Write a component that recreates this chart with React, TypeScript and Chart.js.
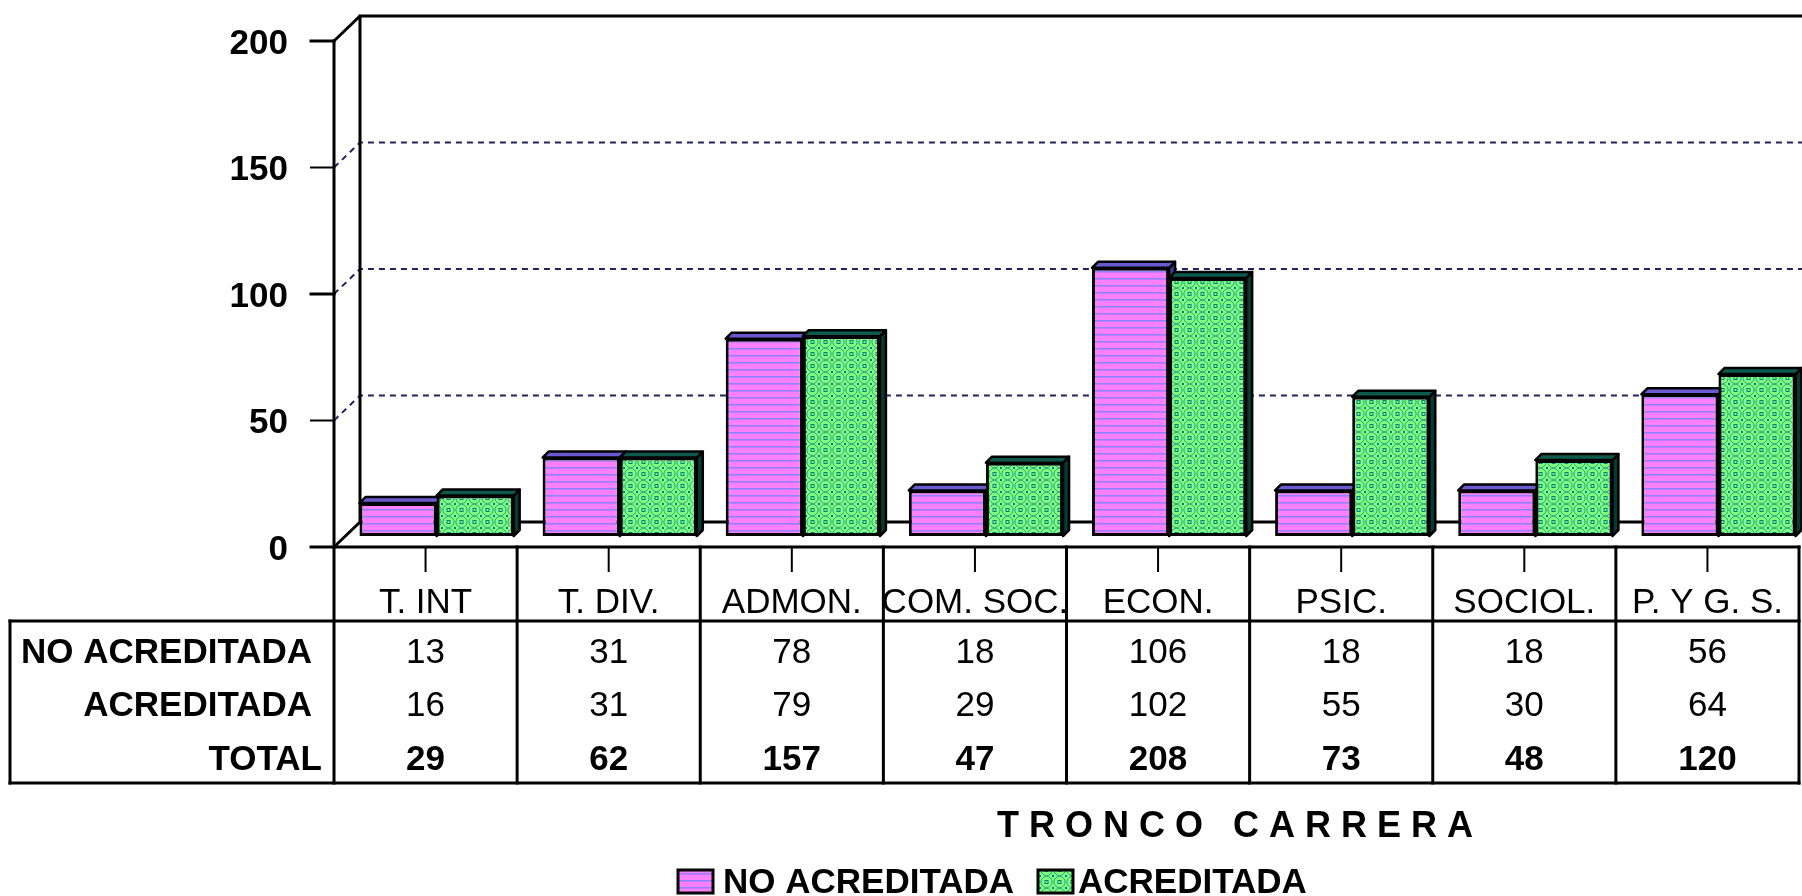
import React, { useEffect, useRef } from 'react';
import { Chart, registerables } from 'chart.js';

Chart.register(...registerables);

// ---------------- data ----------------
const categories = ['T. INT', 'T. DIV.', 'ADMON.', 'COM. SOC.', 'ECON.', 'PSIC.', 'SOCIOL.', 'P. Y G. S.'];
const noAcreditada = [13, 31, 78, 18, 106, 18, 18, 56];
const acreditada = [16, 31, 79, 29, 102, 55, 30, 64];
const totals = [29, 62, 157, 47, 208, 73, 48, 120];
const yTicks = [0, 50, 100, 150, 200];
const seriesNames = ['NO ACREDITADA', 'ACREDITADA'];
const rowLabels = ['NO ACREDITADA', 'ACREDITADA', 'TOTAL'];
const axisTitle = 'T R O N C O   C A R R E R A';

// ---------------- style / geometry ----------------
const FONT = '"Liberation Sans", Arial, sans-serif';
const FRONT = { dx: -11, dy: 11 };
const BACK = { dx: 15, dy: -14 };
const BAR_DEPTH = 6;
const GRID_COLOR = '#23235e';
const TABLE_LEFT = 10;
const HEADER_BASELINE = 613;
const HEADER_BOTTOM = 621;
const ROW_BASELINES = [663, 716, 770];
const ROW_LABEL_RIGHT = [312, 312, 322];
const TABLE_BOTTOM = 783;
const FACE = [
  { top: '#6a5ad0', side: '#3a3a90' },
  { top: '#0d5a4c', side: '#063a32' },
];

function makePinkPattern(): CanvasPattern {
  const c = document.createElement('canvas');
  c.width = 8;
  c.height = 7;
  const g = c.getContext('2d')!;
  g.fillStyle = '#ff80ff';
  g.fillRect(0, 0, 8, 7);
  g.fillStyle = '#8a84ff';
  g.fillRect(0, 5, 8, 1);
  g.fillStyle = '#c47cff';
  g.fillRect(0, 6, 8, 1);
  return g.createPattern(c, 'repeat')!;
}

function makeGreenPattern(): CanvasPattern {
  const c = document.createElement('canvas');
  c.width = 13;
  c.height = 12;
  const g = c.getContext('2d')!;
  g.fillStyle = '#80ff80';
  g.fillRect(0, 0, 13, 12);
  g.strokeStyle = '#2aa07c';
  g.lineWidth = 1;
  g.beginPath();
  g.arc(6.5, 6, 5.6, 0, Math.PI * 2);
  g.stroke();
  g.strokeStyle = '#00807f';
  g.strokeRect(5, 4.5, 3, 3);
  g.fillStyle = '#00807f';
  g.fillRect(0, 0, 1, 1);
  g.fillRect(12, 0, 1, 1);
  g.fillRect(0, 11, 1, 1);
  g.fillRect(12, 11, 1, 1);
  return g.createPattern(c, 'repeat')!;
}

export default function App() {
  const ref = useRef<HTMLCanvasElement>(null);

  useEffect(() => {
    const canvas = ref.current!;
    const pinkPat = makePinkPattern();
    const greenPat = makeGreenPattern();
    const patterns = [pinkPat, greenPat];
    const yMax = yTicks[yTicks.length - 1];

    const line = (ctx: CanvasRenderingContext2D, x1: number, y1: number, x2: number, y2: number) => {
      ctx.beginPath();
      ctx.moveTo(x1, y1);
      ctx.lineTo(x2, y2);
      ctx.stroke();
    };

    const threeD = {
      id: 'threeD',
      beforeDatasetsDraw(chart: any) {
        const { ctx, chartArea: a } = chart;
        const ys = chart.scales.y;
        const W = chart.width;
        const bx = a.left + BACK.dx;
        const fx = a.left + FRONT.dx;
        const yb = (v: number) => ys.getPixelForValue(v) + BACK.dy;
        const yf = (v: number) => ys.getPixelForValue(v) + FRONT.dy;
        ctx.save();
        // dashed gridlines on back wall + side wall
        ctx.strokeStyle = GRID_COLOR;
        ctx.lineWidth = 2;
        ctx.setLineDash([6, 5]);
        for (const v of yTicks) {
          if (v === 0 || v === yMax) continue;
          ctx.beginPath();
          ctx.moveTo(fx, yf(v));
          ctx.lineTo(bx, yb(v));
          ctx.lineTo(W, yb(v));
          ctx.stroke();
        }
        ctx.setLineDash([]);
        // walls
        ctx.strokeStyle = '#000';
        ctx.lineWidth = 3;
        ctx.lineCap = 'square';
        ctx.beginPath();
        ctx.moveTo(fx, yf(yMax));
        ctx.lineTo(bx, yb(yMax));
        ctx.lineTo(W, yb(yMax));
        ctx.moveTo(bx, yb(yMax));
        ctx.lineTo(bx, yb(0));
        ctx.lineTo(W, yb(0));
        ctx.moveTo(fx, yf(0));
        ctx.lineTo(bx, yb(0));
        ctx.stroke();
        // 3D faces of bars (fronts are drawn by Chart.js afterwards)
        const metas = [chart.getDatasetMeta(0), chart.getDatasetMeta(1)];
        ctx.lineWidth = 2.5;
        ctx.lineJoin = 'round';
        const d = BAR_DEPTH;
        for (let i = 0; i < categories.length; i++) {
          for (let s = 0; s < 2; s++) {
            const el = metas[s].data[i];
            const { x, y, base, width } = el.getProps(['x', 'y', 'base', 'width'], true);
            const l = x - width / 2;
            const r = x + width / 2;
            // side
            ctx.fillStyle = FACE[s].side;
            ctx.beginPath();
            ctx.moveTo(r, y);
            ctx.lineTo(r + d, y - d);
            ctx.lineTo(r + d, base - d);
            ctx.lineTo(r, base);
            ctx.closePath();
            ctx.fill();
            ctx.stroke();
            // top
            ctx.fillStyle = FACE[s].top;
            ctx.beginPath();
            ctx.moveTo(l, y);
            ctx.lineTo(l + d, y - d);
            ctx.lineTo(r + d, y - d);
            ctx.lineTo(r, y);
            ctx.closePath();
            ctx.fill();
            ctx.stroke();
          }
        }
        ctx.restore();
      },
      afterDraw(chart: any) {
        const { ctx, chartArea: a } = chart;
        const xs = chart.scales.x;
        const ys = chart.scales.y;
        const n = categories.length;
        const catW = xs.width / n;
        const fx = a.left + FRONT.dx;
        const fRight = fx + n * catW;
        const yf = (v: number) => ys.getPixelForValue(v) + FRONT.dy;
        const colX = (i: number) => xs.getPixelForValue(i) + FRONT.dx;
        ctx.save();
        ctx.strokeStyle = '#000';
        ctx.fillStyle = '#000';
        ctx.lineCap = 'square';
        ctx.lineWidth = 3;
        // front axis & floor
        line(ctx, fx, yf(yMax), fx, TABLE_BOTTOM);
        line(ctx, fx, yf(0), fRight, yf(0));
        // y ticks + labels
        ctx.font = `bold 35px ${FONT}`;
        ctx.textAlign = 'right';
        ctx.textBaseline = 'alphabetic';
        for (const v of yTicks) {
          ctx.lineWidth = v % 100 === 0 ? 3 : 2;
          line(ctx, fx - 23, yf(v), fx, yf(v));
          ctx.fillText(String(v), fx - 46, yf(v) + 12.5);
        }
        // category ticks
        ctx.lineWidth = 2;
        ctx.lineCap = 'butt';
        for (let i = 0; i < n; i++) line(ctx, colX(i), yf(0), colX(i), yf(0) + 25);
        ctx.lineCap = 'square';
        // table grid
        ctx.lineWidth = 3;
        for (let i = 1; i <= n; i++) line(ctx, fx + i * catW, yf(0), fx + i * catW, TABLE_BOTTOM);
        line(ctx, TABLE_LEFT, HEADER_BOTTOM, fRight, HEADER_BOTTOM);
        line(ctx, TABLE_LEFT, TABLE_BOTTOM, fRight, TABLE_BOTTOM);
        line(ctx, TABLE_LEFT, HEADER_BOTTOM, TABLE_LEFT, TABLE_BOTTOM);
        // header labels
        ctx.textAlign = 'center';
        ctx.font = `35px ${FONT}`;
        categories.forEach((c, i) => ctx.fillText(c, colX(i), HEADER_BASELINE));
        // rows
        const rows = [noAcreditada, acreditada, totals];
        rows.forEach((vals, r) => {
          ctx.font = `bold 35px ${FONT}`;
          ctx.textAlign = 'right';
          ctx.fillText(rowLabels[r], ROW_LABEL_RIGHT[r], ROW_BASELINES[r]);
          ctx.textAlign = 'center';
          ctx.font = `${r === 2 ? 'bold ' : ''}35px ${FONT}`;
          vals.forEach((v, i) => ctx.fillText(String(v), colX(i), ROW_BASELINES[r]));
        });
        // axis title
        ctx.font = `bold 36px ${FONT}`;
        ctx.textAlign = 'left';
        ctx.fillText(axisTitle, 997, 837);
        // legend
        const legendItems = [
          { box: 678, text: 723 },
          { box: 1038, text: 1078 },
        ];
        ctx.font = `bold 35px ${FONT}`;
        legendItems.forEach((it, s) => {
          ctx.fillStyle = patterns[s];
          ctx.fillRect(it.box, 870, 35, 23);
          ctx.lineWidth = 3;
          ctx.strokeRect(it.box, 870, 35, 23);
          ctx.fillStyle = '#000';
          ctx.fillText(seriesNames[s], it.text, 893);
        });
        ctx.restore();
      },
    };

    const chart = new Chart(canvas, {
      type: 'bar',
      data: {
        labels: categories,
        datasets: [
          {
            label: seriesNames[0],
            data: noAcreditada,
            backgroundColor: pinkPat as any,
            borderColor: '#000',
            borderWidth: 3,
            borderSkipped: false,
            categoryPercentage: 0.842,
            barPercentage: 1,
          },
          {
            label: seriesNames[1],
            data: acreditada,
            backgroundColor: greenPat as any,
            borderColor: '#000',
            borderWidth: 3,
            borderSkipped: false,
            categoryPercentage: 0.842,
            barPercentage: 1,
          },
        ],
      },
      options: {
        responsive: false,
        animation: false,
        devicePixelRatio: 1,
        layout: { padding: { left: 345, top: 30, right: 20, bottom: 360 } },
        plugins: { legend: { display: false }, tooltip: { enabled: false } },
        scales: {
          x: { display: false },
          y: { display: false, min: 0, max: 200 },
        },
      },
      plugins: [threeD],
    });
    return () => chart.destroy();
  }, []);

  return (
    <div
      style={{
        position: 'fixed',
        left: 0,
        top: 0,
        width: 1802,
        height: 896,
        overflow: 'hidden',
        background: '#fff',
      }}
    >
      <canvas ref={ref} width={1830} height={896} style={{ display: 'block', width: 1830, height: 896 }} />
    </div>
  );
}
